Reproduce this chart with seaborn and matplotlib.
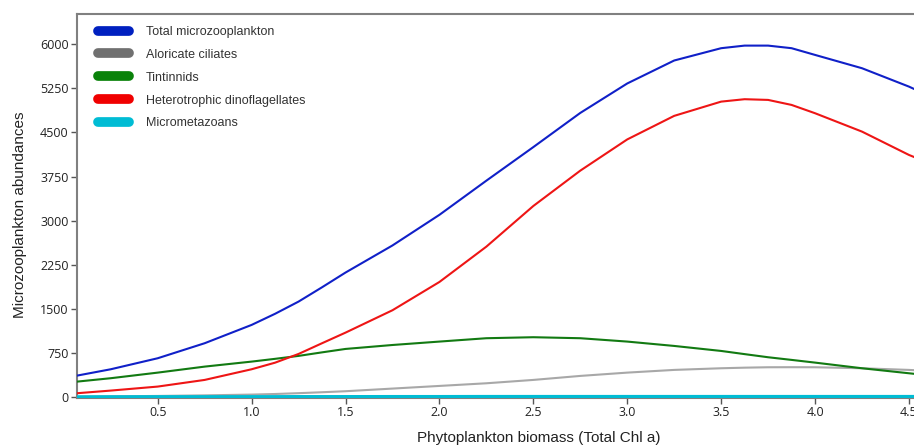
import matplotlib
matplotlib.use("Agg")
import matplotlib.pyplot as plt
import seaborn as sns
import pandas as pd
from matplotlib.lines import Line2D

chl = [0.07, 0.25, 0.5, 0.75, 1.0, 1.125, 1.25, 1.375, 1.5, 1.75, 2.0, 2.25,
       2.5, 2.75, 3.0, 3.25, 3.5, 3.625, 3.75, 3.875, 4.0, 4.25, 4.5, 4.53]
total = [370, 478, 665, 920, 1231, 1420, 1627, 1870, 2120, 2580, 3100, 3680,
         4250, 4830, 5330, 5720, 5929, 5973, 5973, 5929, 5815, 5589, 5277, 5233]
aloricate = [12, 18, 25, 35, 48, 58, 72, 88, 105, 150, 195, 240,
             297, 365, 421, 467, 495, 505, 512, 513, 512, 495, 467, 462]
tintinnids = [268, 326, 421, 523, 608, 655, 705, 765, 823, 890, 948, 1005,
              1022, 1005, 948, 874, 789, 735, 682, 637, 591, 495, 410, 400]
dinos = [71, 116, 184, 297, 478, 590, 738, 920, 1100, 1480, 1960, 2560,
         3250, 3850, 4380, 4780, 5022, 5063, 5051, 4966, 4825, 4513, 4117, 4078]
micrometazoans = [6, 7, 8, 8, 9, 9, 10, 10, 10, 11, 11, 12,
                  12, 12, 12, 12, 12, 12, 12, 12, 12, 12, 12, 12]

labels = ["Total microzooplankton", "Aloricate ciliates", "Tintinnids",
          "Heterotrophic dinoflagellates", "Micrometazoans"]
series = [total, aloricate, tintinnids, dinos, micrometazoans]
yticks = [0, 750, 1500, 2250, 3000, 3750, 4500, 5250, 6000]
xticks = [0.5, 1.0, 1.5, 2.0, 2.5, 3.0, 3.5, 4.0, 4.5]

line_colors = ["#1020c8", "#a8a8a8", "#127a12", "#ee1515", "#00bcd4"]
legend_colors = ["#0020c0", "#707070", "#0a820a", "#f00000", "#00bcd4"]

rows = []
for lab, vals in zip(labels, series):
    for x, v in zip(chl, vals):
        rows.append({"chl": x, "abund": v, "group": lab})
df = pd.DataFrame(rows)

sns.set_style("white")
plt.rcParams["font.family"] = ["Liberation Sans", "DejaVu Sans"]

fig = plt.figure(figsize=(9.14, 4.48), dpi=100)
ax = fig.add_axes([0.0842, 0.1116, 0.9158, 0.8572])

draw_order = ["Aloricate ciliates", "Tintinnids", "Heterotrophic dinoflagellates",
              "Total microzooplankton", "Micrometazoans"]
pal = dict(zip(labels, line_colors))
widths = {"Micrometazoans": 2.6}
for g in draw_order:
    sub = df[df["group"] == g]
    sns.lineplot(data=sub, x="chl", y="abund", color=pal[g], ax=ax,
                 linewidth=widths.get(g, 1.5), legend=False, zorder=3)

ax.set_xlim(0.07, 4.527)
ax.set_ylim(-10, 6510)
ax.set_xticks(xticks)
ax.set_xticklabels([f"{t:.1f}" for t in xticks])
ax.set_yticks(yticks)
ax.set_yticklabels([str(t) for t in yticks])
for lab in ax.get_xticklabels() + ax.get_yticklabels():
    lab.set_fontfamily(["Open Sans", "DejaVu Sans"])
    lab.set_fontsize(9)
    lab.set_color("#222222")
ax.tick_params(axis="both", direction="out", length=4, width=1, color="#555555",
               left=True, bottom=True)
ax.tick_params(axis="x", pad=1.5)
ax.tick_params(axis="y", pad=2)

for s in ["left", "top", "bottom"]:
    ax.spines[s].set_color("#808080")
    ax.spines[s].set_linewidth(1.5)
ax.spines["right"].set_visible(False)

ax.set_xlabel("Phytoplankton biomass (Total Chl a)", fontsize=11, color="#222222")
ax.set_ylabel("Microzooplankton abundances", fontsize=11, color="#222222")
ax.xaxis.label.set_va("center")
ax.xaxis.set_label_coords(0.552, -0.104)
ax.yaxis.label.set_va("center")
ax.yaxis.label.set_ha("center")
ax.yaxis.set_label_coords(-0.068, 0.477)

handles = [Line2D([0], [0], color=c, linewidth=7, solid_capstyle="round") for c in legend_colors]
leg = ax.legend(handles, labels, loc="upper left", bbox_to_anchor=(0.025, 0.969),
                frameon=False, fontsize=9, handlelength=2.5, handletextpad=1.35,
                labelspacing=0.87, borderaxespad=0.0, borderpad=0.0)
for t in leg.get_texts():
    t.set_color("#333333")

fig.savefig("out.png", dpi=100)
